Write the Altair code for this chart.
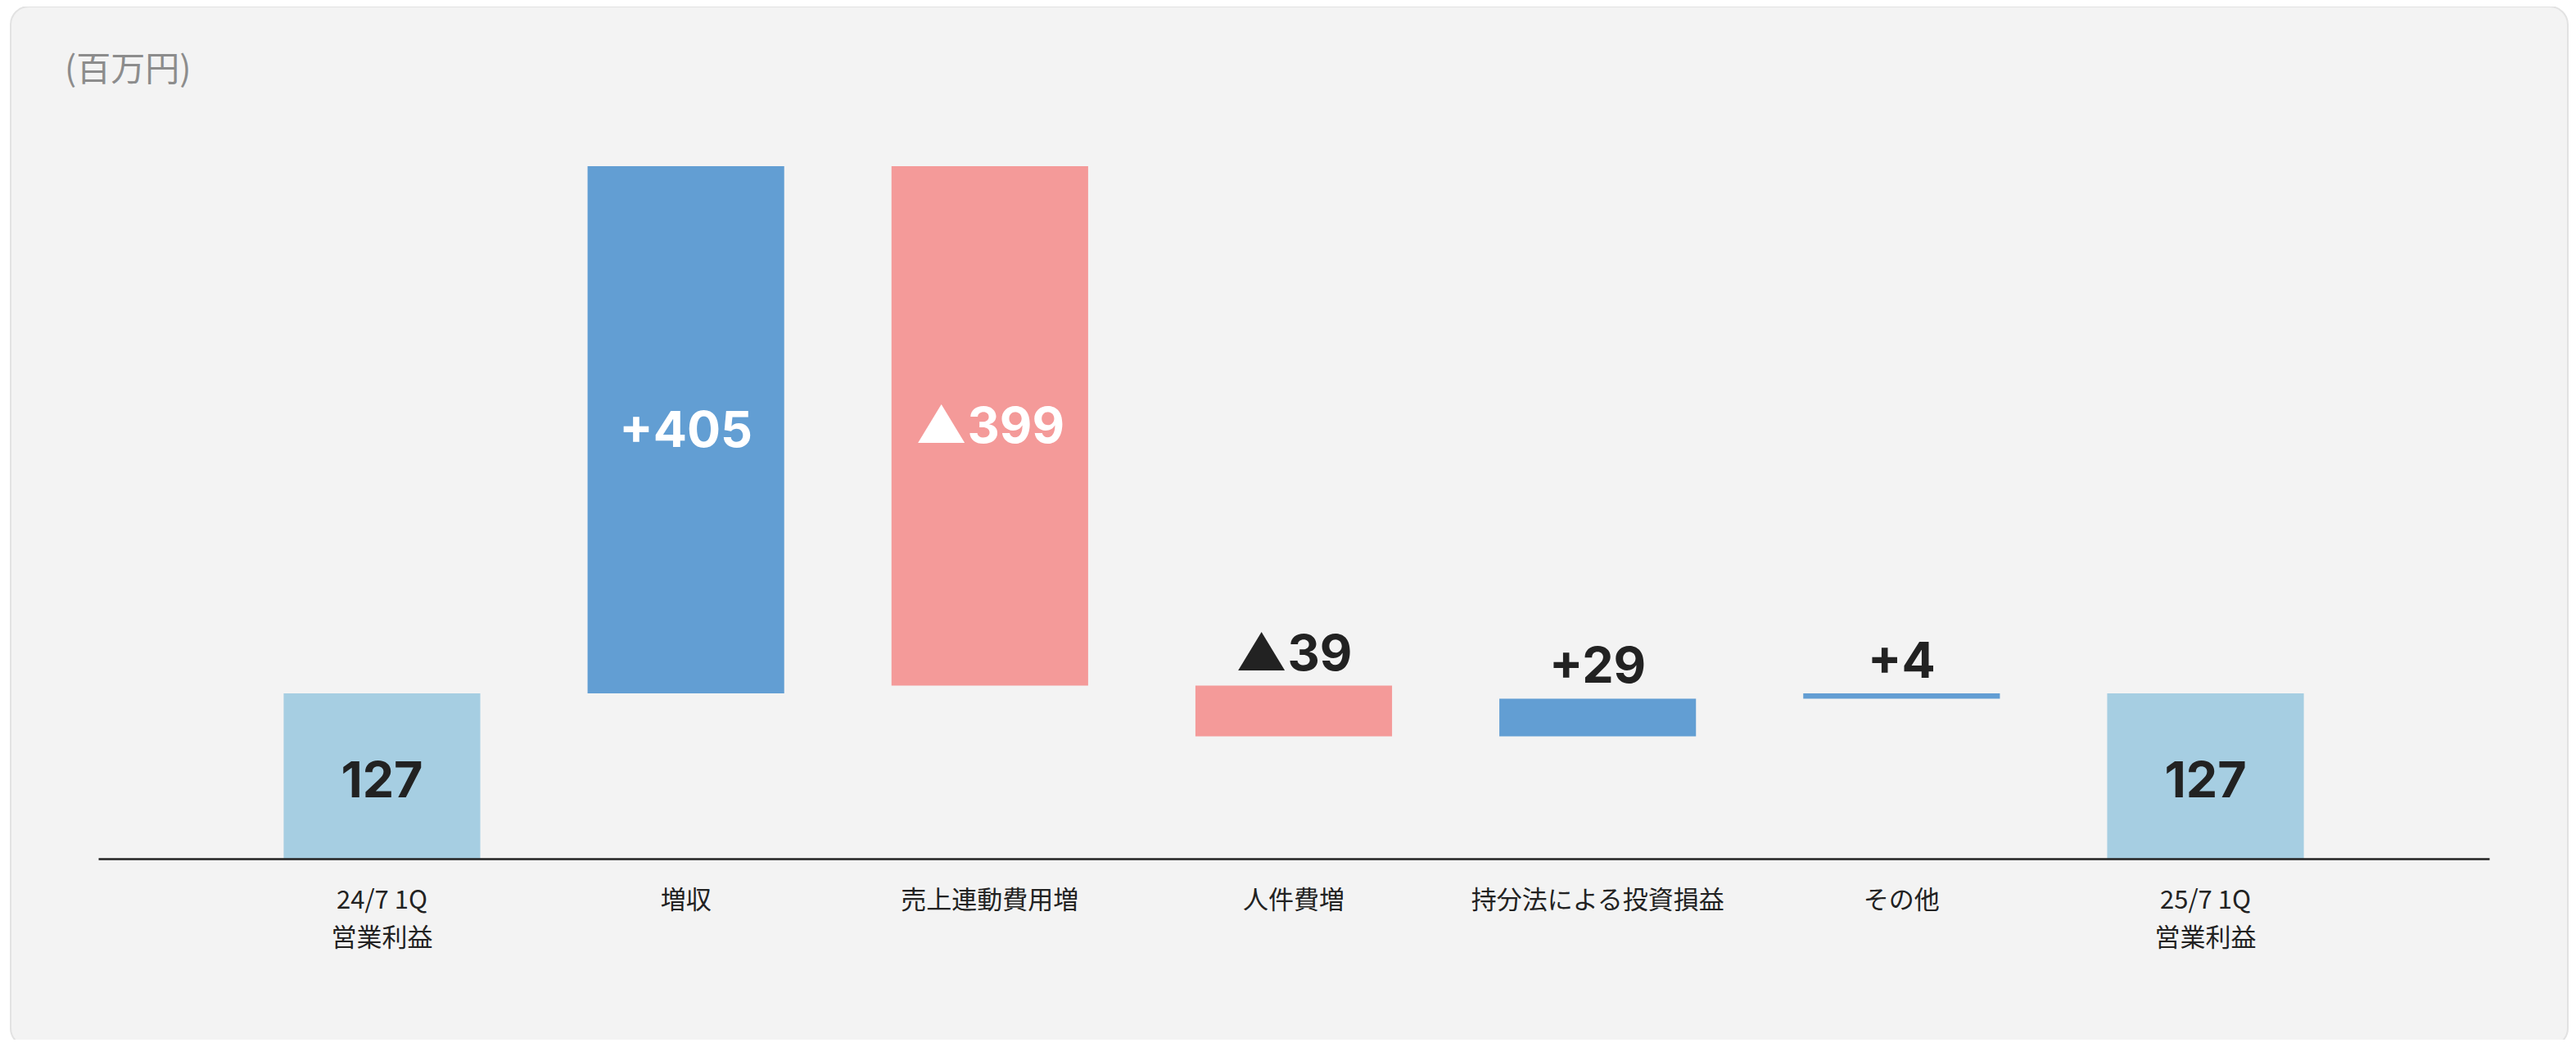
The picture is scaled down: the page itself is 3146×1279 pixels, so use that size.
import altair as alt
import pandas as pd

# ---- data ----
categories = ["24/7 1Q\n営業利益", "増収", "売上連動費用増", "人件費増",
              "持分法による投資損益", "その他", "25/7 1Q\n営業利益"]
values = [127, 405, -399, -39, 29, 4, 127]
kinds = ["total", "delta", "delta", "delta", "delta", "delta", "total"]
labels = ["127", "+405", "▲399", "▲39", "+29", "+4", "127"]
unit_label = "(百万円)"

# ---- waterfall table ----
rows = []
running = 0
for cat, val, kind, lab in zip(categories, values, kinds, labels):
    if kind == "total":
        start, end = 0, val
        running = val
        cls = "total"
    else:
        start, end = running, running + val
        running = end
        cls = "up" if val >= 0 else "down"
    if kind == "total":
        place = "inside_dark"
    elif abs(val) > 100:
        place = "inside_white"
    else:
        place = "above"
    rows.append(dict(cat=cat, start=start, end=end, mid=(start + end) / 2,
                     top=max(start, end), cls=cls, label=lab, place=place))
df = pd.DataFrame(rows)

W, H = 2920, 954
FONT_CJK = "Noto Sans CJK JP"
FONT_NUM = "Inter"
NUM_SIZE = 61

x_axis = alt.Axis(title=None, ticks=False, domain=True,
                  domainColor="#222222", domainWidth=2.5,
                  labelExpr="split(datum.value, '\\n')",
                  labelFont=FONT_CJK, labelFontSize=31,
                  labelColor="#222222", labelAngle=0, labelLimit=2000,
                  labelLineHeight=46, labelPadding=36,
                  labelBaseline="top", zindex=2)
x_scale = alt.Scale(paddingInner=0.353, paddingOuter=0.61)
x_enc = alt.X("cat:N", sort=categories, scale=x_scale, axis=x_axis)
y_scale = alt.Scale(domain=[0, 600], nice=False, zero=True)

base = alt.Chart(df)

card = alt.Chart(alt.Data(values=[{"a": 1}])).mark_rect(
    fill="#f3f3f3", stroke="#e2e2e2", strokeWidth=2, cornerRadius=22
).encode(x=alt.value(-107), x2=alt.value(3016),
         y=alt.value(-87), y2=alt.value(1183))

bars = base.mark_bar().encode(
    x=x_enc,
    y=alt.Y("start:Q", scale=y_scale, axis=None),
    y2="end:Q",
    color=alt.Color("cls:N",
                    scale=alt.Scale(domain=["total", "up", "down"],
                                    range=["#a6cee2", "#629ed3", "#f49a99"]),
                    legend=None),
)

def text_layer(place, color, field, baseline, dy=0):
    return base.transform_filter(f"datum.place == '{place}'").mark_text(
        font=FONT_NUM, fontSize=NUM_SIZE, fontWeight=700, color=color,
        baseline=baseline, align="center", dy=dy
    ).encode(x=x_enc, y=alt.Y(f"{field}:Q", scale=y_scale, axis=None),
             text="label:N")

inside_dark = text_layer("inside_dark", "#222222", "mid", "middle", dy=8)
inside_white = text_layer("inside_white", "#ffffff", "mid", "middle", dy=3)
above = text_layer("above", "#222222", "top", "alphabetic", dy=-19)

unit = alt.Chart(alt.Data(values=[{"t": unit_label}])).mark_text(
    font=FONT_CJK, fontSize=42, color="#8c8c8c", align="left",
    baseline="middle"
).encode(x=alt.value(-41), y=alt.value(-9), text="t:N")

chart = alt.layer(card, bars, inside_dark, inside_white, above, unit).properties(
    width=W, height=H,
    autosize=alt.AutoSizeParams(type="none"),
    padding={"left": 112, "top": 87, "right": 98, "bottom": 221},
).configure(background="#ffffff").configure_view(strokeWidth=0)

chart.save("out.html", embed_options={"renderer": "svg", "actions": False})
